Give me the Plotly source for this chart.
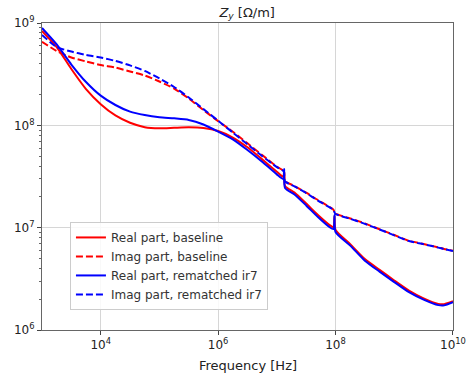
import plotly.graph_objects as go

# Frequencies [Hz]
freq = [1.0e3, 1.78e3, 3.16e3, 5.62e3, 1.0e4, 1.78e4, 3.16e4, 5.62e4,
        1.0e5, 1.78e5, 3.16e5, 5.62e5, 1.0e6, 1.78e6, 3.16e6, 5.62e6,
        1.0e7, 1.29e7, 1.33e7, 1.38e7, 2.0e7, 3.16e7, 5.01e7, 7.94e7,
        9.2e7, 9.6e7, 1.0e8, 1.78e8, 3.16e8, 5.62e8, 1.0e9, 1.78e9,
        3.16e9, 5.62e9, 7.08e9, 1.0e10]

real_baseline = [8.36e8, 5.82e8, 3.55e8, 2.26e8, 1.61e8, 1.25e8, 1.06e8, 9.6e7,
                 9.35e7, 9.46e7, 9.56e7, 9.42e7, 8.8e7, 7.6e7, 6.1e7, 4.65e7,
                 3.52e7, 3.13e7, 3.57e7, 2.55e7, 2.2e7, 1.72e7, 1.33e7, 1.06e7,
                 1.01e7, 1.30e7, 9.5e6, 6.9e6, 4.93e6, 3.87e6, 3.05e6, 2.43e6,
                 2.04e6, 1.80e6, 1.79e6, 1.91e6]

imag_baseline = [6.56e8, 5.32e8, 4.60e8, 4.21e8, 3.88e8, 3.67e8, 3.36e8, 3.07e8,
                 2.68e8, 2.29e8, 1.83e8, 1.41e8, 1.10e8, 8.65e7, 6.67e7, 5.13e7,
                 3.95e7, 3.61e7, 3.50e7, 2.86e7, 2.55e7, 2.20e7, 1.86e7, 1.59e7,
                 1.50e7, 1.42e7, 1.37e7, 1.23e7, 1.10e7, 9.65e6, 8.47e6, 7.43e6,
                 6.93e6, 6.41e6, 6.2e6, 5.94e6]

real_rematched = [8.94e8, 6.17e8, 3.93e8, 2.65e8, 1.95e8, 1.58e8, 1.36e8, 1.26e8,
                  1.20e8, 1.17e8, 1.13e8, 1.02e8, 8.7e7, 7.3e7, 5.74e7, 4.41e7,
                  3.32e7, 2.99e7, 3.74e7, 2.44e7, 2.11e7, 1.65e7, 1.27e7, 1.01e7,
                  9.7e6, 1.33e7, 9.07e6, 6.68e6, 4.76e6, 3.72e6, 2.94e6, 2.34e6,
                  1.98e6, 1.75e6, 1.74e6, 1.87e6]

imag_rematched = [7.64e8, 5.82e8, 5.26e8, 4.87e8, 4.60e8, 4.26e8, 3.85e8, 3.40e8,
                  2.87e8, 2.37e8, 1.87e8, 1.44e8, 1.11e8, 8.5e7, 6.52e7, 5.01e7,
                  3.91e7, 3.58e7, 3.47e7, 2.83e7, 2.53e7, 2.18e7, 1.84e7, 1.58e7,
                  1.49e7, 1.41e7, 1.36e7, 1.22e7, 1.09e7, 9.6e6, 8.42e6, 7.40e6,
                  6.90e6, 6.38e6, 6.18e6, 5.92e6]

x_ticks = [1e4, 1e6, 1e8, 1e10]
x_ticklabels = ["10<sup>4</sup>", "10<sup>6</sup>", "10<sup>8</sup>", "10<sup>10</sup>"]
y_ticks = [1e6, 1e7, 1e8, 1e9]
y_ticklabels = ["10<sup>6</sup>", "10<sup>7</sup>", "10<sup>8</sup>", "10<sup>9</sup>"]

series = [
    ("Real part, baseline", real_baseline, "#ff0000", "solid"),
    ("Imag part, baseline", imag_baseline, "#ff0000", "7px,3px"),
    ("Real part, rematched ir7", real_rematched, "#0000ff", "solid"),
    ("Imag part, rematched ir7", imag_rematched, "#0000ff", "7px,3px"),
]

fig = go.Figure()
for name, vals, color, dash in series:
    fig.add_trace(go.Scatter(x=freq, y=vals, mode="lines", name=name,
                             line=dict(color=color, width=2, dash=dash,
                                       shape="spline", smoothing=0.6)))

font = "DejaVu Sans, sans-serif"
fig.update_layout(
    width=469, height=375,
    margin=dict(l=42, r=16, t=23, b=45),
    paper_bgcolor="white", plot_bgcolor="white",
    font=dict(family=font, size=12, color="#222"),
    title=dict(text="<i>Z<sub>y</sub></i> [Ω/m]", x=0.527, xanchor="center",
               y=0.98, yanchor="top", font=dict(size=13, color="#222")),
    showlegend=True,
    legend=dict(x=0.068, y=0.352, xanchor="left", yanchor="top",
                bgcolor="rgba(255,255,255,0.85)", bordercolor="#cccccc",
                borderwidth=1, font=dict(size=12, color="#333"),
                tracegroupgap=0),
    annotations=[dict(text="Frequency [Hz]", xref="paper", yref="paper",
                      x=0.5, y=-0.117, xanchor="center", yanchor="middle",
                      showarrow=False, font=dict(size=13, color="#222"))],
)
fig.update_xaxes(
    type="log", range=[3, 10.0005], tickvals=x_ticks, ticktext=x_ticklabels,
    automargin=False, ticklabeloverflow="allow",
    showgrid=True, gridcolor="#d6d6d6", gridwidth=1,
    showline=True, linecolor="#666", linewidth=1, mirror=True,
    ticks="outside", ticklen=4, tickcolor="#444", zeroline=False,
    tickfont=dict(size=12),
)
fig.update_yaxes(
    type="log", range=[6, 9], tickvals=y_ticks, ticktext=y_ticklabels,
    automargin=False, ticklabeloverflow="allow",
    showgrid=True, gridcolor="#d6d6d6", gridwidth=1,
    showline=True, linecolor="#666", linewidth=1, mirror=True,
    ticks="outside", ticklen=4, tickcolor="#444", zeroline=False,
    minor=dict(ticks="outside", ticklen=2, tickcolor="#666", dtick="D1", showgrid=False),
    tickfont=dict(size=12),
)

fig.write_html("out.html")
